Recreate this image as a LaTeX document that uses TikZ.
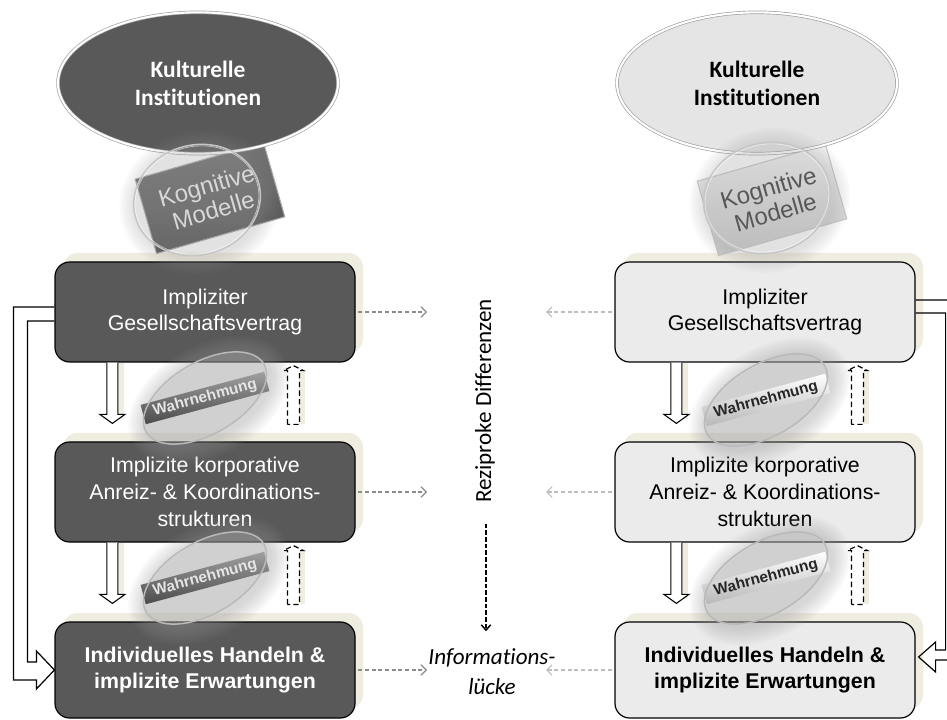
\documentclass[tikz,border=0pt]{standalone}
\usepackage{fontspec}
\setmainfont{Liberation Sans}
\newfontfamily\calibri[Ligatures=NoCommon]{Carlito}
\usetikzlibrary{arrows.meta,shapes.geometric,calc}

\definecolor{darkfill}{HTML}{595959}
\definecolor{lightfill}{HTML}{EBEBEB}
\definecolor{shadowbeige}{HTML}{EFECE0}
\definecolor{connL}{HTML}{8C8C8C}
\definecolor{connR}{HTML}{BEBEBE}
\definecolor{haze}{HTML}{9A9A9A}

\tikzset{
  stagebox/.style={rounded corners=11pt, draw=black, line width=0.9pt,
    minimum width=225pt, minimum height=75pt, align=center,
    font=\fontsize{16}{20}\selectfont, inner sep=2pt},
  darkstage/.style={stagebox, fill=darkfill, text=white},
  lightstage/.style={stagebox, fill=lightfill, text=black},
  institution/.style={ellipse, minimum width=210pt, minimum height=106pt,
    draw=gray!75, double=white, double distance=1.6pt, line width=0.5pt,
    align=center, font=\calibri\bfseries\fontsize{17.6}{21}\selectfont},
  cogbox/.style={rotate=16, minimum width=100pt, minimum height=58pt,
    align=center, font=\fontsize{18}{19}\selectfont, inner sep=2pt,
    line width=0.8pt},
  percband/.style={rotate=15, minimum width=96pt, minimum height=15pt,
    inner sep=1pt, font=\bfseries\fontsize{11.5}{12}\selectfont},
  gapconn/.style={dash pattern=on 3pt off 2pt, line width=0.8pt,
    -{Straight Barb[length=4pt,width=8pt]}},
  feedback/.style={line width=0.9pt, line join=miter},
}

% hollow block arrow pointing down from one stage to the next
\newcommand\hollowdown[3]{%
  \coordinate (hd-a) at ($(#1.south west)+(#3,0)$);
  \coordinate (hd-b) at ($(#2.north west)+(#3,-18)$);
  \fill[shadowbeige] ($(hd-a)+(5.5,0)$) rectangle ($(hd-b)+(12,-4)$);
  \draw[fill=white, line width=0.8pt, line join=miter]
    ($(hd-a)+(-5.5,0)$) -- ($(hd-b)+(-5.5,-9)$) -- ($(hd-b)+(-12.5,-9)$)
    -- (hd-b) -- ($(hd-b)+(12.5,-9)$) -- ($(hd-b)+(5.5,-9)$) -- ($(hd-a)+(5.5,0)$);
}
% dashed outline arrow pointing up from the lower stage to the upper one
\newcommand\dashedup[3]{%
  \coordinate (du-t) at ($(#1.south west)+(#3,3)$);
  \coordinate (du-b) at ($(#2.north west)+(#3,-17)$);
  \fill[shadowbeige] ($(du-t)+(6,5)$) rectangle ($(du-b)+(12,0)$);
  \draw[line width=0.9pt, dash pattern=on 4pt off 2.5pt]
    ($(du-b)+(-6,0)$) -- ($(du-t)+(-6,5)$) -- ($(du-t)+(-10,5)$) -- (du-t)
    -- ($(du-t)+(10,5)$) -- ($(du-t)+(6,5)$) -- ($(du-b)+(6,0)$) -- cycle;
}
% glass lens with a labelled band: perception filter
\newcommand\percept[3]{%
  \begin{scope}[shift={#2}, rotate=30]
    \foreach \g in {1,...,8}
      \fill[haze, opacity=0.055] (2,4) ellipse [x radius=68+2.4*\g, y radius=36+2.4*\g];
    \fill[gray!50, opacity=0.25] (0,0) ellipse [x radius=68, y radius=36];
    \node[percband, #3] (#1) at (0,0) {Wahrnehmung};
    \draw[gray!55, line width=1.1pt] (0,0) ellipse [x radius=68, y radius=36];
  \end{scope}}
% glass lens over the cognitive models
\newcommand\cognilens[1]{%
  \begin{scope}[shift={#1}, rotate=15]
    \foreach \g in {1,...,7}
      \fill[haze, opacity=0.045] (2,3) ellipse [x radius=64+2.4*\g, y radius=55+2.4*\g];
    \fill[white, opacity=0.05] (0,0) ellipse [x radius=64, y radius=55];
    \draw[gray!45, line width=1.1pt] (0,0) ellipse [x radius=64, y radius=55];
    \draw[white, opacity=0.6, line width=0.5pt] (0,0) ellipse [x radius=62.5, y radius=53.5];
  \end{scope}}

\begin{document}
\begin{tikzpicture}[x=0.75pt, y=-0.75pt]
\useasboundingbox (0,0) rectangle (947,720);
\fill[white] (0,0) rectangle (947,720);

% beige drop shadows behind the stages
\foreach \cx/\cy/\h in {205/312/100, 205/492/100, 205/670/96, 765/312/100, 765/492/100, 765/670/96}
  \fill[shadowbeige, rounded corners=11pt] (\cx-142, \cy-\h/2-9) rectangle (\cx+158, \cy+\h/2-9);

% stages, left (dark) and right (light)
\node[darkstage] (L1) at (205,312) {Impliziter\\Gesellschaftsvertrag};
\node[darkstage] (L2) at (205,492) {Implizite korporative\\Anreiz- \& Koordinations-\\strukturen};
\node[darkstage, minimum height=72pt, font=\bfseries\fontsize{16}{19}\selectfont] (L3) at (205,670)
  {Individuelles Handeln \&\\implizite Erwartungen};
\node[lightstage] (R1) at (765,312) {Impliziter\\Gesellschaftsvertrag};
\node[lightstage] (R2) at (765,492) {Implizite korporative\\Anreiz- \& Koordinations-\\strukturen};
\node[lightstage, minimum height=72pt, font=\bfseries\fontsize{16}{19}\selectfont] (R3) at (765,670)
  {Individuelles Handeln \&\\implizite Erwartungen};

% cognitive models
\node[cogbox, top color=gray!90!black, bottom color=darkfill!90!black, draw=gray!70, text=white!94!black] (CM1) at (210,198) {Kognitive\\Modelle};
\node[cogbox, top color=white!96!black, bottom color=white!78!black, draw=gray!45, text=black!78] (CM2) at (772,200) {Kognitive\\Modelle};

% cultural institutions
\node[institution, fill=darkfill, text=white] (K1) at (198,83) {Kulturelle\\Institutionen};
\node[institution, fill=white!90!black, text=black] (K2) at (757,83) {Kulturelle\\Institutionen};

\cognilens{(197,200)}
\cognilens{(767,198)}

% top-down and bottom-up links between the stages
\hollowdown{L1}{L2}{58}
\hollowdown{L2}{L3}{58}
\dashedup{L1}{L2}{239}
\dashedup{L2}{L3}{239}
\hollowdown{R1}{R2}{62}
\hollowdown{R2}{R3}{62}
\dashedup{R1}{R2}{243}
\dashedup{R2}{R3}{243}

% perception filters
\percept{P1}{(205,398)}{top color=gray!75, bottom color=darkfill!85!black, text=white!90!black}
\percept{P2}{(205,578)}{top color=gray!75, bottom color=darkfill!85!black, text=white!90!black}
\percept{P3}{(766,400)}{top color=white, bottom color=white!72!black, text=black!85}
\percept{P4}{(766,578)}{top color=white, bottom color=white!72!black, text=black!85}

% feedback from the social contract to individual action
\draw[feedback] ($(L1.west)+(0,-5)$) -- ($(L1.west)+(-41,-5)$) |- ($(L3.west)+(-18,10)$)
  -- ($(L3.west)+(-18,19)$) -- (L3.west) -- ($(L3.west)+(-18,-19)$)
  -- ($(L3.west)+(-18,-8)$) -| ($(L1.west)+(-27,9)$) -- ($(L1.west)+(0,9)$);
\draw[feedback] ($(R1.east)+(0,-12)$) -- ($(R1.east)+(40,-12)$) |- ($(R3.east)+(20,-10)$)
  -- ($(R3.east)+(20,2)$) -- ($(R3.east)+(3,-13)$) -- ($(R3.east)+(20,-28)$)
  -- ($(R3.east)+(20,-20)$) -| ($(R1.east)+(30,1)$) -- ($(R1.east)+(0,1)$);

% reciprocal differences in the middle
\coordinate (midL) at (427,0);
\coordinate (midR) at (546,0);
\foreach \s in {L1,L2,L3}
  \draw[gapconn, connL] ([xshift=2pt]\s.east) -- (\s.east -| midL);
\foreach \s in {R1,R2,R3}
  \draw[gapconn, connR] ([xshift=-2pt]\s.west) -- (\s.west -| midR);

\node[rotate=90, font=\calibri\fontsize{17.3}{20}\selectfont] (rd) at (485,401) {Reziproke Differenzen};
\node[font=\calibri\itshape\fontsize{17.3}{22.5}\selectfont, align=center] (il) at (492,672) {Informations-\\lücke};
\draw[line width=1.1pt, dash pattern=on 3.5pt off 1.5pt, -{Straight Barb[length=4pt,width=7pt]}]
  ($(rd.west)+(1,16)$) -- ($(il.north)+(-6,-13)$);

\end{tikzpicture}
\end{document}
